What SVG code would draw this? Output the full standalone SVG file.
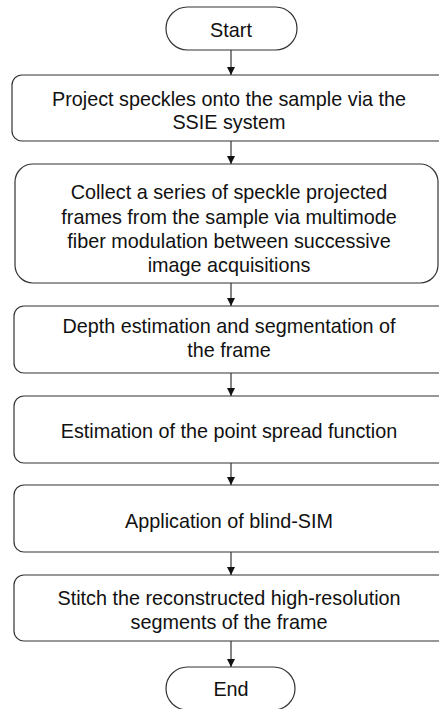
<svg xmlns="http://www.w3.org/2000/svg" width="439" height="709" viewBox="0 0 439 709">
<style>
.box{fill:#fff;stroke:#333;stroke-width:1.2}
.t{font-family:"Liberation Sans",Arial,sans-serif;font-size:19.8px;fill:#111;text-anchor:middle}
.c{stroke:#333;stroke-width:1.2;fill:none;marker-end:url(#ah)}
</style>
<defs>
<marker id="ah" viewBox="0 0 10 10" refX="10" refY="5" markerWidth="8" markerHeight="8" markerUnits="userSpaceOnUse" orient="auto">
<path d="M0,0 L10,5 L0,10 z" fill="#111"/>
</marker>
</defs>
<rect width="439" height="709" fill="#fff"/>
<g id="connectors">
<line class="c" x1="231" y1="50" x2="231" y2="75"/>
<line class="c" x1="231" y1="141" x2="231" y2="164"/>
<line class="c" x1="231" y1="283" x2="231" y2="306"/>
<line class="c" x1="231" y1="373" x2="231" y2="396"/>
<line class="c" x1="231" y1="463" x2="231" y2="485"/>
<line class="c" x1="231" y1="552" x2="231" y2="575"/>
<line class="c" x1="231" y1="641" x2="231" y2="667"/>
</g>
<g id="start">
<rect class="box" x="166" y="7" width="131" height="43" rx="21.5"/>
<text class="t" x="231" y="37">Start</text>
</g>
<g id="step1">
<rect class="box" x="12" y="75" width="438" height="66" rx="10"/>
<text class="t" x="229" y="106">Project speckles onto the sample via the</text>
<text class="t" x="229" y="129">SSIE system</text>
</g>
<g id="step2">
<rect class="box" x="15" y="164" width="423" height="119" rx="18"/>
<text class="t" x="229" y="199">Collect a series of speckle projected</text>
<text class="t" x="229" y="224">frames from the sample via multimode</text>
<text class="t" x="229" y="248">fiber modulation between successive</text>
<text class="t" x="229" y="272">image acquisitions</text>
</g>
<g id="step3">
<rect class="box" x="14" y="306" width="436" height="67" rx="10"/>
<text class="t" x="229" y="333">Depth estimation and segmentation of</text>
<text class="t" x="229" y="357">the frame</text>
</g>
<g id="step4">
<rect class="box" x="14" y="396" width="436" height="67" rx="10"/>
<text class="t" x="229" y="438">Estimation of the point spread function</text>
</g>
<g id="step5">
<rect class="box" x="14" y="485" width="436" height="67" rx="10"/>
<text class="t" x="229" y="528">Application of blind-SIM</text>
</g>
<g id="step6">
<rect class="box" x="14" y="575" width="436" height="66" rx="10"/>
<text class="t" x="229" y="605">Stitch the reconstructed high-resolution</text>
<text class="t" x="229" y="629">segments of the frame</text>
</g>
<g id="end">
<rect class="box" x="166" y="667" width="129" height="43" rx="21.5"/>
<text class="t" x="231" y="696">End</text>
</g>
</svg>
